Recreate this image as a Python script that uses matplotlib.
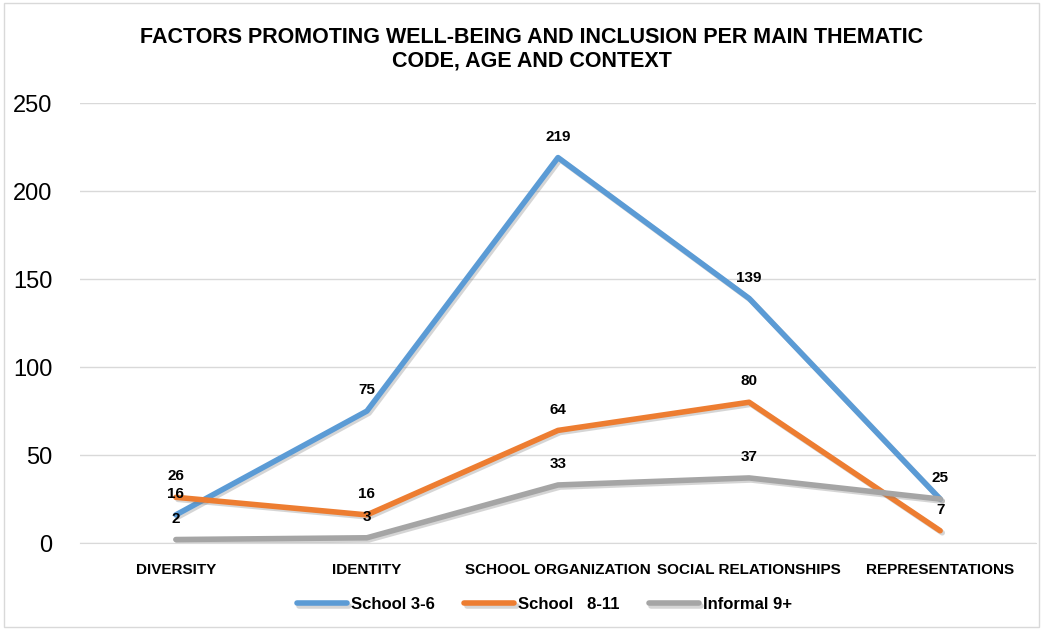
import matplotlib.pyplot as plt
import matplotlib.patheffects as pe
import numpy as np

plt.rcParams['font.family'] = ['Liberation Sans', 'DejaVu Sans']

categories = ['DIVERSITY', 'IDENTITY', 'SCHOOL ORGANIZATION', 'SOCIAL RELATIONSHIPS', 'REPRESENTATIONS']
school_3_6 = [16, 75, 219, 139, 25]
school_8_11 = [26, 16, 64, 80, 7]
informal_9 = [2, 3, 33, 37, 25]
series_names = ['School 3-6', 'School   8-11', 'Informal 9+']
colors = ['#5B9BD5', '#ED7D31', '#A5A5A5']
yticks = [0, 50, 100, 150, 200, 250]

fig = plt.figure(figsize=(10.43, 6.3), dpi=100)
ax = fig.add_axes([0.077, 0.138, 0.916, 0.6985])
x = np.arange(len(categories))

shadow = [pe.SimpleLineShadow(offset=(1.5, -1.5), shadow_color='#777777', alpha=0.3), pe.Normal()]
series = [school_3_6, school_8_11, informal_9]
for name, vals, col in zip(series_names, series, colors):
    ax.plot(x, vals, color=col, lw=4, label=name, solid_capstyle='round',
            solid_joinstyle='round', path_effects=shadow, zorder=3)

# data labels above points (gray at representations overlaps blue)
for i, vals in enumerate(series):
    for j, v in enumerate(vals):
        if i == 2 and j == 4:
            continue
        ax.annotate(str(v), (x[j], v), xytext=(0, 10), textcoords='offset points',
                    ha='center', va='bottom', fontsize=11, fontweight='bold', zorder=5)

ax.set_xlim(-0.5, len(categories) - 0.5)
ax.set_ylim(0, 250)
ax.set_yticks(yticks)
ax.set_xticks(x)
ax.set_xticklabels(categories, fontsize=11, fontweight='bold')
ax.tick_params(axis='y', labelsize=17, length=0, pad=20)
ax.tick_params(axis='x', length=0, pad=14)
ax.grid(axis='y', color='#D9D9D9', lw=1)
ax.set_axisbelow(True)
for s in ['top', 'right', 'left']:
    ax.spines[s].set_visible(False)
ax.spines['bottom'].set_color('#D9D9D9')

fig.text(0.51, 0.922, 'FACTORS PROMOTING WELL-BEING AND INCLUSION PER MAIN THEMATIC\nCODE, AGE AND CONTEXT',
         ha='center', va='center', fontsize=15.5, fontweight='bold', linespacing=1.15)

leg = fig.legend(loc='center', bbox_to_anchor=(0.522, 0.04), ncol=3, frameon=False,
                 prop={'size': 12, 'weight': 'bold'}, handlelength=3.0, handletextpad=0.2, columnspacing=1.8)

fig.patches.append(plt.Rectangle((0.004, 0.004), 0.992, 0.992, transform=fig.transFigure,
                                 fill=False, edgecolor='#D9D9D9', lw=1))
fig.savefig('out.png', dpi=100)
